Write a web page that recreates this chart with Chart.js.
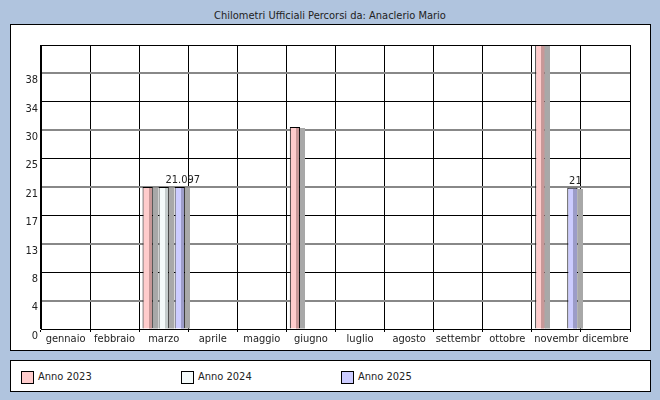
<!DOCTYPE html>
<html>
<head>
<meta charset="utf-8">
<script src="https://cdn.jsdelivr.net/npm/chart.js@4"></script>
<style>
  body { margin: 0; width: 660px; height: 400px; overflow: hidden; background: #b0c4de;
         font-family: "DejaVu Sans Condensed", Tahoma, sans-serif; }
  #title { position: absolute; left: 0; top: 9px; width: 660px; text-align: center;
           font-size: 11px; line-height: 14px; color: #222; }
  #panel { position: absolute; left: 10px; top: 24px; width: 641px; height: 327px;
           box-sizing: border-box; background: #fff; border: 1px solid #000; }
  #legend { position: absolute; left: 10px; top: 360px; width: 641px; height: 32px;
            box-sizing: border-box; background: #fff; border: 1px solid #000; }
  .item { position: absolute; top: 9px; font-size: 11px; color: #222; line-height: 14px; }
  .sq { position: absolute; top: 1px; left: -17px; width: 11px; height: 11px; border: 1px solid #000; }
  #chart { position: absolute; left: 0; top: 0; }
</style>
</head>
<body>
<div id="title">Chilometri Ufficiali Percorsi da: Anaclerio Mario</div>
<div id="panel"></div>
<div id="legend"></div>
<canvas id="chart" width="660" height="400"></canvas>
<script>
const mesi = ['gennaio', 'febbraio', 'marzo', 'aprile', 'maggio', 'giugno', 'luglio', 'agosto', 'settembr', 'ottobre', 'novembr', 'dicembre'];
const anno2023 = [null, null, 21.097, null, null, 30, null, null, null, null, 42.195, null];
const anno2024 = [null, null, 21.097, null, null, null, null, null, null, null, null, null];
const anno2025 = [null, null, 21.097, null, null, null, null, null, null, null, 21, null];
const serie = ['Anno 2023', 'Anno 2024', 'Anno 2025'];
const yMax = 42.195;
const yStep = 4.2195;

const fill = ['#ffcccc', '#f4fafa', '#ccccff'];
const shade = ['#c89898', '#c4cccc', '#9c9cc8'];
const FONT = '"DejaVu Sans Condensed", Tahoma, sans-serif';

// legend (plain html, items spaced like the original)
const legendEl = document.getElementById('legend');
legendEl.innerHTML = serie.map((s, i) => `
  <span class="item" style="left:${27 + i * 160}px"><span class="sq" style="background:${fill[i]}"></span>${s}</span>`).join('');

// 3d look: darker right half, grey shadow, value labels on the last series
const barShade = {
  id: 'barShade',
  afterDatasetsDraw(chart) {
    const ctx = chart.ctx;
    chart.data.datasets.forEach((ds, di) => {
      const meta = chart.getDatasetMeta(di);
      meta.data.forEach((bar, i) => {
        const v = ds.data[i];
        if (v == null) return;
        const { x, y, base, width } = bar.getProps(['x', 'y', 'base', 'width'], true);
        const L = Math.round(x - width / 2), R = Math.round(x + width / 2);
        const top = Math.round(y);
        const mid = L + Math.round((R - L) * 0.55);
        ctx.save();
        ctx.fillStyle = shade[di];
        ctx.fillRect(mid, top + 1, R - 1 - mid, base - top - 1);
        ctx.fillStyle = '#a8a8a8';
        ctx.fillRect(R, top + 1, 5, base - top - 1);
        if (di === 2) {
          ctx.fillStyle = '#222';
          ctx.font = '11px ' + FONT;
          ctx.textAlign = 'center';
          ctx.textBaseline = 'bottom';
          ctx.fillText(String(v), x + 3, top - 1);
        }
        ctx.restore();
      });
    });
  }
};

new Chart(document.getElementById('chart'), {
  type: 'bar',
  data: {
    labels: mesi,
    datasets: [
      { label: serie[0], data: anno2023, backgroundColor: fill[0] },
      { label: serie[1], data: anno2024, backgroundColor: fill[1] },
      { label: serie[2], data: anno2025, backgroundColor: fill[2] }
    ]
  },
  options: {
    responsive: false,
    animation: false,
    layout: { padding: { left: 0, right: 30, top: 45, bottom: 0 } },
    datasets: {
      bar: { borderColor: '#000', borderWidth: 1, barPercentage: 0.64, categoryPercentage: 0.98 }
    },
    plugins: {
      legend: { display: false },
      tooltip: { enabled: false },
      title: { display: false }
    },
    scales: {
      x: {
        grid: { color: '#000', offset: true, tickLength: 3 },
        border: { color: '#000' },
        ticks: {
          color: '#222', padding: 1, autoSkip: false, maxRotation: 0,
          font: { family: FONT, size: 11 }
        },
        afterFit: s => { s.height = 71; }
      },
      y: {
        min: 0,
        max: yMax,
        grid: {
          color: c => c.index % 2 ? '#888' : '#000',
          lineWidth: c => c.index % 2 ? 2 : 1,
          drawTicks: false
        },
        border: { color: '#000' },
        ticks: {
          stepSize: yStep,
          color: '#222',
          padding: 3,
          labelOffset: 7,
          font: { family: FONT, size: 11 },
          callback: (v, i) => i === 10 ? '' : Math.round(v)
        },
        afterFit: s => { s.width = 41; }
      }
    }
  },
  plugins: [barShade]
});
</script>
</body>
</html>
